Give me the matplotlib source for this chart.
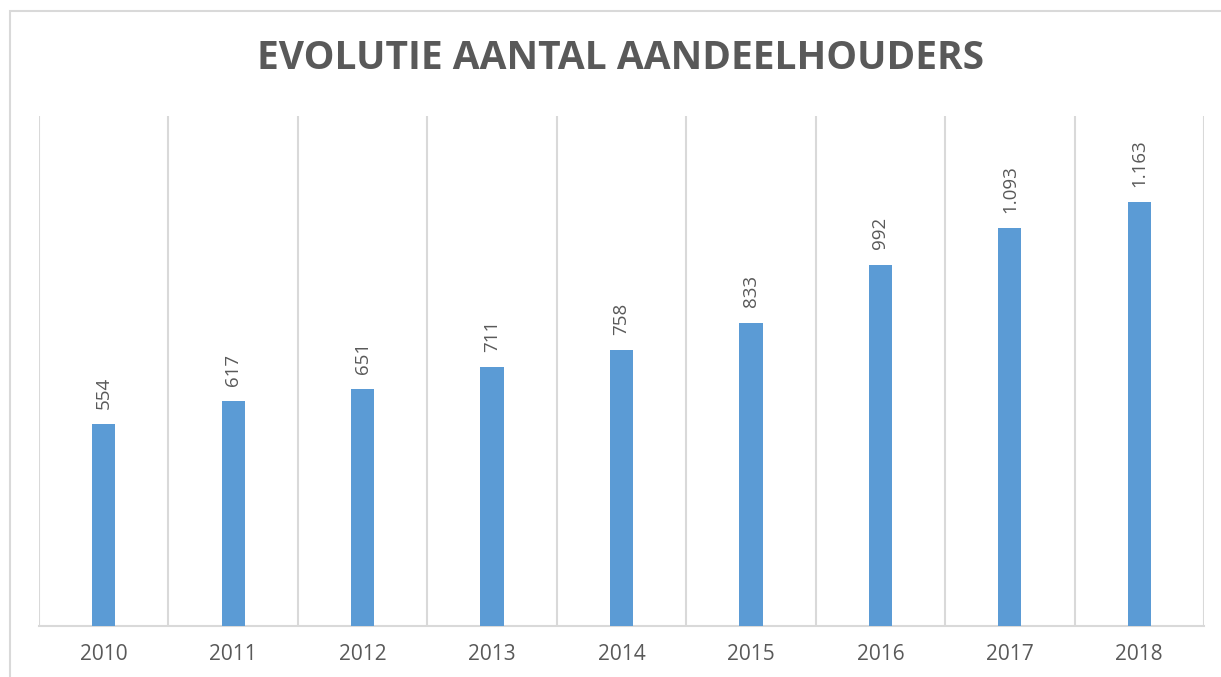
import matplotlib
matplotlib.use("Agg")
import matplotlib.pyplot as plt
from matplotlib.patches import Rectangle

# --- data ---
years = ["2010", "2011", "2012", "2013", "2014", "2015", "2016", "2017", "2018"]
holders = [554, 617, 651, 711, 758, 833, 992, 1093, 1163]

TITLE = "EVOLUTIE AANTAL AANDEELHOUDERS"
BAR_COLOR = "#5B9BD5"
TEXT_COLOR = "#595959"
GRID_COLOR = "#D9D9D9"

plt.rcParams["font.family"] = ["Open Sans", "DejaVu Sans"]


def fmt_nl(v):
    # Dutch thousands separator
    return f"{v:,}".replace(",", ".")


fig = plt.figure(figsize=(12.21, 6.77), dpi=100)
ax = fig.add_axes([39 / 1221, 1 - 626 / 677, (1204 - 39) / 1221, (626 - 116) / 677])

x = list(range(len(years)))
ax.bar(x, holders, width=0.18, color=BAR_COLOR, zorder=3)

# category separators
for b in [i - 0.5 for i in range(len(years) + 1)]:
    ax.axvline(b, color=GRID_COLOR, lw=1.5, zorder=1)

for xi, v in zip(x, holders):
    ax.annotate(fmt_nl(v), (xi, v), xytext=(0, 11), textcoords="offset points",
                rotation=90, ha="center", va="bottom", fontsize=13.5, color=TEXT_COLOR)

ax.set_xlim(-0.5, len(years) - 0.5)
ax.set_ylim(0, 1400)
ax.set_yticks([])
ax.set_xticks(x)
ax.set_xticklabels(years, fontsize=15, color=TEXT_COLOR)
ax.tick_params(axis="x", length=0, pad=13)
for s in ["top", "left", "right"]:
    ax.spines[s].set_visible(False)
ax.spines["bottom"].set_color(GRID_COLOR)
ax.spines["bottom"].set_linewidth(1.5)

fig.text(0.508, 0.914, TITLE, ha="center", va="center", fontsize=28,
         fontweight="bold", color=TEXT_COLOR)

# outer chart border
fig.patches.append(Rectangle((10 / 1221, -0.1), 1.2, (677 - 11) / 677 + 0.1,
                             transform=fig.transFigure, fill=False,
                             edgecolor=GRID_COLOR, lw=1.5))

fig.savefig("out.png", dpi=100)
